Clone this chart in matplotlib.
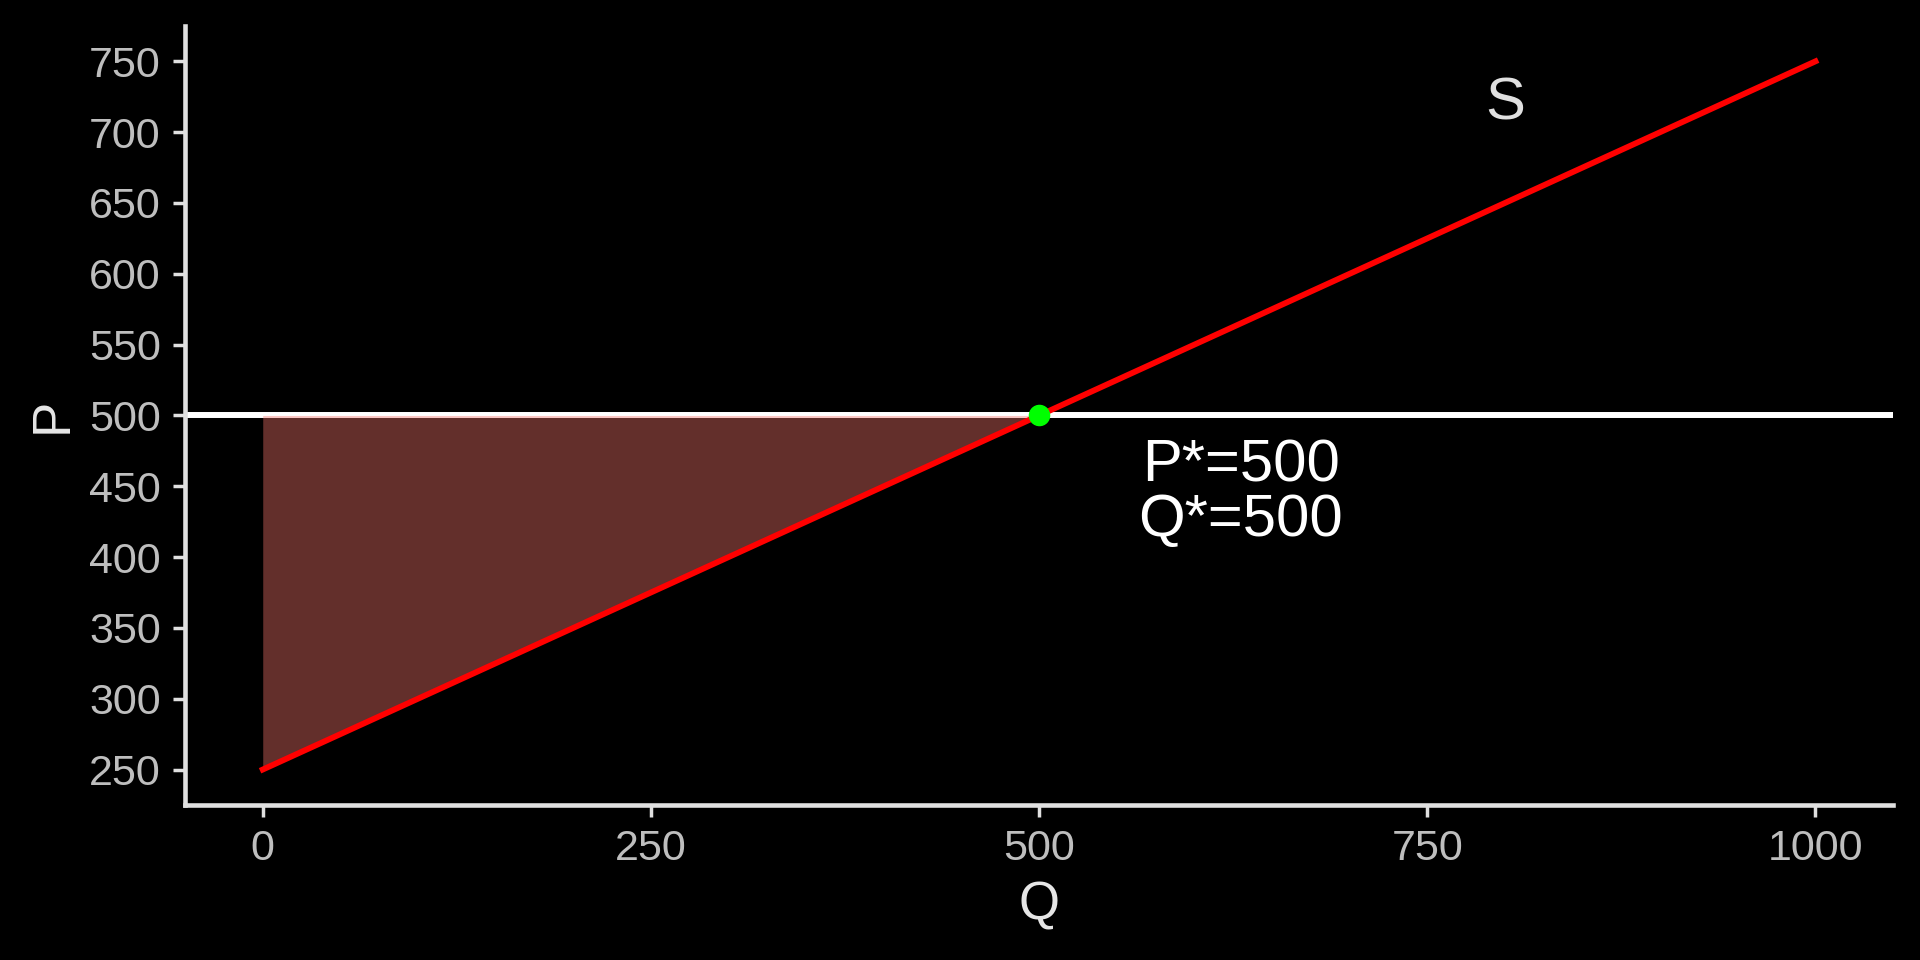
import matplotlib.pyplot as plt

plt.rcParams["font.family"] = ["Liberation Sans", "DejaVu Sans"]

# Supply curve and equilibrium
supply_q = [0, 1000]
supply_p = [250, 750]
eq_q = 500
eq_p = 500

# Producer surplus area (between price line and supply curve)
surplus_q = [0, 500]
surplus_low = [250, 500]
surplus_high = [500, 500]

x_ticks = [0, 250, 500, 750, 1000]
y_ticks = [250, 300, 350, 400, 450, 500, 550, 600, 650, 700, 750]

fig = plt.figure(figsize=(19.2, 9.6), dpi=100, facecolor="black")
ax = fig.add_axes([0.0964, 0.1615, 0.8896, 0.8115], facecolor="black")

ax.axhline(eq_p, color="white", linewidth=4.3, zorder=2)
ax.fill_between(surplus_q, surplus_low, surplus_high, color="#F8766D", alpha=0.4,
                linewidth=0, zorder=3)
ax.plot(supply_q, supply_p, color="#FF0000", linewidth=4.2, zorder=4)
ax.plot([eq_q], [eq_p], "o", color="#00FF00", markersize=14.5, zorder=5)

ax.text(630, 445, f"P*={eq_p}\nQ*={eq_q}", color="white", fontsize=43,
        ha="center", va="center", linespacing=1.0)
ax.text(800, 720, "S", color="#E0E0E0", fontsize=43, ha="center", va="center")

ax.set_xlim(-50, 1050)
ax.set_ylim(225, 775)
ax.set_xticks(x_ticks)
ax.set_yticks(y_ticks)

for side in ["top", "right"]:
    ax.spines[side].set_visible(False)
for side in ["left", "bottom"]:
    ax.spines[side].set_color("#E0E0E0")
    ax.spines[side].set_linewidth(3.3)

ax.tick_params(colors="#E0E0E0", labelcolor="#BEBEBE", labelsize=31,
               length=8.5, width=2.5, pad=9)
ax.set_xlabel("Q", color="#E6E6E6", fontsize=38, labelpad=8)
ax.set_ylabel("P", color="#E6E6E6", fontsize=38, labelpad=8)

plt.savefig("out.png", dpi=100, facecolor="black")
